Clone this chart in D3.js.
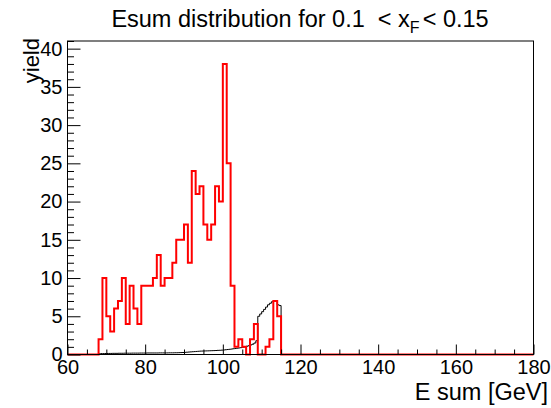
<!DOCTYPE html>
<html>
<head>
<meta charset="utf-8">
<script src="https://cdn.jsdelivr.net/npm/d3@7"></script>
<style>
  html, body { margin: 0; padding: 0; background: #fff; }
  svg text { font-family: "Liberation Sans", Arial, Helvetica, sans-serif; fill: #000; }
</style>
</head>
<body>
<svg id="chart" width="551" height="408"></svg>
<script>
// Histogram range and binning
const xRange = [60, 180];
const yRange = [0, 41];

// Red histogram: 1 GeV bins, first filled bin starts at 68 GeV
const redStart = 68;
const redWidth = 1;
const redCounts = [2, 10, 5, 3, 6, 7, 10, 4, 9, 6, 4, 9, 9, 9, 10, 13, 9, 10, 10, 12,
  15, 15, 17, 12, 24, 21, 22, 17, 15, 17, 22, 20, 38, 25, 9, 1, 2, 1, 0, 2,
  4, 0, 0, 1, 2, 7, 5];

// Black histogram: 0.5 GeV bins, starting at 68 GeV
const blackStart = 68;
const blackWidth = 0.5;
const blackCounts = [
  0.10, 0.12, 0.12, 0.13, 0.13, 0.14, 0.14, 0.15,
  0.15, 0.15, 0.16, 0.16, 0.16, 0.17, 0.17, 0.17,
  0.17, 0.18, 0.18, 0.18, 0.18, 0.19, 0.19, 0.19,
  0.19, 0.20, 0.20, 0.20, 0.20, 0.20, 0.20, 0.21,
  0.21, 0.21, 0.21, 0.21, 0.22, 0.22, 0.22, 0.23,
  0.23, 0.24, 0.25, 0.26, 0.28, 0.30, 0.32, 0.34,
  0.36, 0.38, 0.40, 0.42, 0.44, 0.45, 0.46, 0.47,
  0.48, 0.49, 0.50, 0.51, 0.52, 0.54, 0.55, 0.57,
  0.59, 0.62, 0.65, 0.68, 0.71, 0.75, 0.78, 0.82,
  0.86, 0.90, 0.95, 1.00, 1.08, 1.15, 1.25, 1.35,
  1.50, 1.80,
  5.0, 5.3, 5.6, 5.9, 6.2, 6.5, 6.7, 6.9, 7.0, 7.0, 6.5, 6.4
];

const xMajorTicks = [60, 80, 100, 120, 140, 160, 180];
const yMajorTicks = [0, 5, 10, 15, 20, 25, 30, 35, 40];

const titleMain = "Esum distribution for 0.1  < x";
const titleSub = "F";
const titleEnd = "< 0.15";
const xTitle = "E sum [GeV]";
const yTitle = "yield";

const frame = { left: 67.5, right: 533.5, top: 41, bottom: 354.5 };

const svg = d3.select("#chart");
const x = d3.scaleLinear().domain(xRange).range([frame.left, frame.right]);
const y = d3.scaleLinear().domain(yRange).range([frame.bottom, frame.top]);

// Build a step outline over the full axis range, zero outside the filled bins
function histPath(start, width, counts) {
  const pts = [[xRange[0], 0], [start, 0]];
  counts.forEach((c, i) => {
    const lo = start + i * width, hi = lo + width;
    pts.push([lo, c], [hi, c]);
  });
  const end = start + counts.length * width;
  pts.push([end, 0], [xRange[1], 0]);
  return d3.line().x(d => x(d[0])).y(d => y(d[1]))(pts);
}

svg.append("path")
  .attr("d", histPath(blackStart, blackWidth, blackCounts))
  .attr("fill", "none").attr("stroke", "#000").attr("stroke-width", 1);

svg.append("path")
  .attr("d", histPath(redStart, redWidth, redCounts))
  .attr("fill", "none").attr("stroke", "#ff0000").attr("stroke-width", 2)
  .attr("stroke-linejoin", "miter");

// Frame
svg.append("rect")
  .attr("x", frame.left).attr("y", frame.top)
  .attr("width", frame.right - frame.left).attr("height", frame.bottom - frame.top)
  .attr("fill", "none").attr("stroke", "#000").attr("stroke-width", 1);

// X axis: major + minor ticks pointing inward
const xMinor = d3.range(xRange[0], xRange[1] + 0.001, 5).filter(v => v % 20 !== 0);
svg.append("g").attr("transform", `translate(0,${frame.bottom})`)
  .call(d3.axisBottom(x).tickValues(xMajorTicks).tickSize(-10).tickPadding(5).tickFormat(d3.format("d")));
svg.append("g").attr("transform", `translate(0,${frame.bottom})`)
  .call(d3.axisBottom(x).tickValues(xMinor).tickSize(-5).tickFormat(""));

// Y axis
const yMinor = d3.range(yRange[0], 41.001, 1).filter(v => v % 5 !== 0);
svg.append("g").attr("transform", `translate(${frame.left},0)`)
  .call(d3.axisLeft(y).tickValues(yMajorTicks).tickSize(-13).tickPadding(5).tickFormat(d3.format("d")));
svg.append("g").attr("transform", `translate(${frame.left},0)`)
  .call(d3.axisLeft(y).tickValues(yMinor).tickSize(-6.5).tickFormat(""));

svg.selectAll(".domain").remove();
svg.selectAll(".tick line").attr("stroke", "#000").attr("stroke-width", 1);
svg.selectAll(".tick text").attr("font-size", 20).attr("fill", "#000")
  .style("font-family", '"Liberation Sans", Arial, Helvetica, sans-serif');

// Titles
const t = svg.append("text").attr("x", 300).attr("y", 27)
  .attr("text-anchor", "middle").attr("font-size", 23.5)
  .style("white-space", "pre");
t.append("tspan").text(titleMain);
t.append("tspan").text(titleSub).attr("font-size", 16).attr("dy", 6);
t.append("tspan").text(titleEnd).attr("dy", -6).attr("dx", 3);

svg.append("text").attr("x", 548).attr("y", 400)
  .attr("text-anchor", "end").attr("font-size", 23.5).text(xTitle);

svg.append("text").attr("transform", "translate(39,38) rotate(-90)")
  .attr("text-anchor", "end").attr("font-size", 22).text(yTitle);
</script>
</body>
</html>
